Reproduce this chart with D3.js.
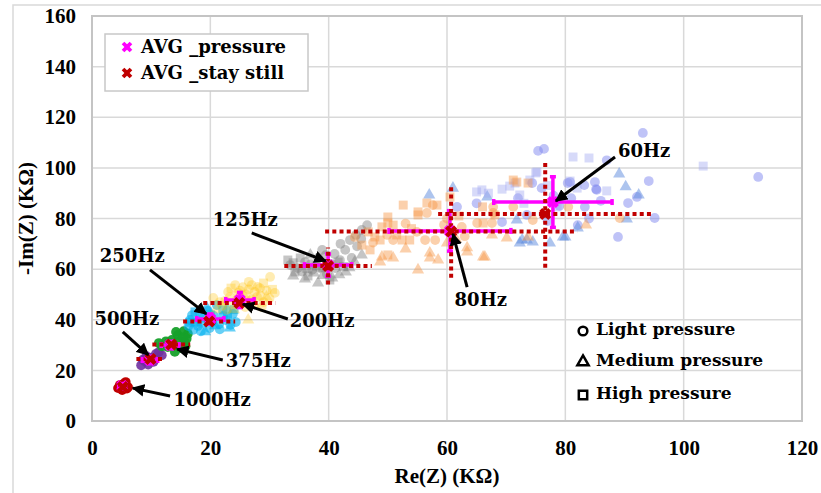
<!DOCTYPE html>
<html>
<head>
<meta charset="utf-8">
<script src="https://cdn.jsdelivr.net/npm/d3@7"></script>
<style>
  html, body { margin: 0; padding: 0; background: #fff; }
  svg { display: block; }
  .tick text, .ttl { font-family: "Liberation Serif", "Times New Roman", serif !important; font-weight: bold; }
  .ann, .leg { font-family: "DejaVu Serif", serif; font-weight: bold; }
</style>
</head>
<body>
<svg id="chart" width="821" height="493"></svg>
<script>
// ---------------- DATA ----------------
const xTicks = [0, 20, 40, 60, 80, 100, 120];
const yTicks = [0, 20, 40, 60, 80, 100, 120, 140, 160];
const xTitle = "Re(Z) (KΩ)";
const yTitle = "-Im(Z) (KΩ)";

// 60 Hz
const hz60Light = [[93.1,113.8],[112.6,96.4],[94.1,94.8],[85,94.4],[85.2,91.6],[83.2,93.2],[90.6,86.1],[92.1,88.5],[95.1,80.2],[88.9,72.7],[87,103],[80.8,94.4],[83.3,84.6],[82.1,77.4],[75.4,106.7],[76.4,107.5],[85.3,91.3],[80.4,94],[74.4,94],[61.7,84.6],[73.5,81.4],[69.3,78.6],[78,89],[81,88],[79,85],[76,92],[72,88],[65,86],[77,79],[84,80],[86,87]];
const hz60Medium = [[89.1,97.6],[90.2,92.5],[92.4,89.3],[90.4,79.8],[82.1,76.3],[80,72.7],[72.3,70.3],[73.5,71.5],[77.4,70.3],[79.6,72.7],[71.8,79.4],[72.7,71.5],[74.5,70.7],[61,92],[57,89.3],[66.8,88.5]];
const hz60High = [[81.3,104.3],[84,103.9],[103.3,100.7],[87,90.9],[80.8,94.8],[75.2,98.4],[69.3,91.6],[70.6,92.8],[72.3,89.3],[74,95.2],[78.6,84.6],[65.9,91.3],[65,90.5],[67,90],[71.5,94],[75,98],[82,92],[77,93],[73,86]];
// 80 Hz
const hz80Light = [[54.9,74.7],[56.3,71.5],[58,71.5],[56.6,82.2],[62.5,76.7],[65.1,78.2],[67.6,78.2],[50.9,71.5],[49.9,73.5],[57.6,85.3],[67.8,82.2],[44.4,72.7],[67.8,84.6],[71.2,84.6],[74.5,79.4],[80.5,84.6],[89.2,80.2],[60,80],[63,73],[53,78],[47.5,70.5],[59.5,77.5]];
const hz80Medium = [[55.1,59.7],[57.1,64.4],[58.5,63.6],[60,70.3],[63.4,66.8],[66.1,64.8],[70.1,72.3],[50.9,64.4],[49,64.8],[57.1,66.4],[63.4,68.4],[66.4,64.8],[83.5,77.4],[67.6,73.5],[73.7,72.7],[48.7,62.8],[53,68],[61.5,72]];
const hz80High = [[52.6,85.3],[55.1,81.4],[56.6,86.1],[58.3,85.3],[60.5,88.5],[50,78.2],[49,76.7],[46.7,74.7],[51.5,73.5],[53.7,71.5],[71.8,94.4],[68.1,81.4],[66.1,78.2],[50,80.6],[55.1,82.6],[52.4,71.5],[47.8,72.7],[71.2,95.2],[50.9,77.4],[48.7,71.5],[47,67.6],[45.6,69.5],[50,65.6],[73.7,94],[66,84.6],[62,81],[54,76]];
// 125 Hz
const hz125Light = [[33.5,61.6],[34.8,60.4],[36,62.8],[37.2,59.7],[38.2,64.4],[38.9,67.6],[39.7,58.1],[41.1,60.4],[41.9,63.6],[42.8,67.6],[43.6,71.5],[44.6,73.5],[45.6,75.5],[46.5,77.4],[43.9,64.4],[35.5,59],[40.5,62],[44.8,69],[37,62],[39.5,65.5],[42,70],[45.5,72],[38.5,60.5],[41,66]];
const hz125Medium = [[34,57.3],[36,56.1],[38.2,54.5],[40.6,56.5],[42.9,58.9],[44.4,62.8],[45.6,65.6],[36.9,65.6],[39,57.5],[41.8,57.8],[37.5,58.5],[43.5,60.5]];
const hz125High = [[34.3,58.9],[36.5,57.3],[37.9,61.2],[40.2,55.7],[41.6,62.8],[35.2,64.4],[33.1,63.6],[39,60.5],[42.5,61],[34,62.5],[36.3,60.3]];
// 200 Hz
const hz200Light = [[30.1,56.9],[30.9,50.6],[28.4,52.5],[27,53.7],[25.5,52.9],[24.2,53.7],[24.7,50.6],[27.9,49],[28.7,45],[23.3,49],[21.6,47],[20.5,48.6],[22.8,43.9],[25.9,45],[26,50],[23,51],[29,47],[25.5,49.5],[27.5,51],[22,45.5],[24,46],[28,53],[26.5,55],[29.5,51.5],[27,48],[24.5,48],[28.5,49.5],[26.5,52],[30,48.5],[22.5,47.5],[25,51.5]];
const hz200Medium = [[26.4,39.9],[29.5,49],[21,44],[27.5,46],[24,44]];
const hz200High = [[30.5,52],[27,47.5],[23.5,52.5],[29,54.5]];
// 250 Hz
const hz250Light = [[16.6,39.9],[17.9,37.5],[18.8,40.7],[19.9,36.7],[20.6,41.5],[21.5,38.3],[22.6,39.9],[23.8,42.3],[21.1,45.8],[17.1,36],[24.3,39.1],[16.3,37.5],[18.3,42.5],[20.3,39],[22.2,41.5],[19.6,43.5],[23.4,38],[21.6,36.2],[18.4,35.4],[16.9,41.8]];
const hz250Medium = [[19.4,44.6],[23.3,36.7],[19.1,35.3],[20.8,37.6],[17.6,38.8],[22.8,44.2]];
const hz250High = [[17.4,43.1],[22.1,43.9],[18.4,38.8],[22.9,41.2],[20,42],[24,44],[16.5,39]];
// 375 Hz
const hz375Light = [[13.5,32],[14.5,34],[15.7,31.2],[14.9,28.8],[12.8,29.2],[14,27.3],[16.2,34.5],[15.5,35.5],[13,31],[11.8,29.5],[14.6,31.3],[15.3,33],[13.8,29.8],[12.5,31.5],[16,32.5],[14.2,35.2],[15.8,29.5],[11.3,30.8]];
// 500 Hz
const hz500Light = [[8.3,22],[9,23.5],[10,25],[10.8,26.5],[11.3,27.3],[9.5,22.3],[8.6,24.2],[10.4,23.4],[9.2,25.6],[11.8,26]];
// 1000 Hz
const hz1000Light = [[4.7,14.2],[5.7,15.4],[5.1,12.2],[6.1,13.4],[4.4,13],[5.4,14.8],[5.9,12.8]];

// averages with error half-widths [x, y, errX, errY]
const avgPressure = [[77.9,86.5,10,10],[60.5,75.1,10.3,8],[39.9,61.6,4,4.4],[25,47.8,2.4,3],[20,40.3,2.3,2],[13.2,30,1.5,1.5],[9.8,24.1,1.3,1.5],[5.1,13.8,0.6,1]];
const avgStill = [[76.6,81.8,18.1,21.3],[60.7,74.9,21.3,18.3],[39.9,61.2,7.4,7.3],[24.9,46.6,6.1,1.2],[19.8,39.3,4.4,1.2],[13.4,30.2,3.2,1.2],[9.9,24.5,2.4,1.2],[5.2,13.4,0.8,0.8]];

const seriesNames = ["AVG _pressure", "AVG _stay still"];
const shapeNames = ["Light pressure", "Medium pressure", "High pressure"];

// annotation: label, text position, arrow tail, arrow head (data units)
const annotations = [
  ["60Hz",   93.3,106.7, 88.4,104.3, 78.4,86.9],
  ["80Hz",   65.7,47.8,  63.4,52.9,  61.0,73.9],
  ["125Hz",  25.9,79.4,  27.0,74.3,  39.5,63.2],
  ["250Hz",   6.8,65.2,   9.8,59.7,  19.3,42.3],
  ["200Hz",  38.9,39.5,  33.1,40.3,  25.5,46.2],
  ["500Hz",   5.9,40.3,   5.2,35.2,   9.5,26.1],
  ["375Hz",  28.1,23.7,  22.1,24.1,  14.4,28.4],
  ["1000Hz", 20.3,8.3,   13.2,9.9,    6.9,13.0]
];

// ---------------- DRAWING ----------------
const svg = d3.select("#chart");
const x = d3.scaleLinear().domain([0,120]).range([92,802]);
const y = d3.scaleLinear().domain([0,160]).range([421,16]);

svg.append("rect").attr("x",13).attr("y",5).attr("width",830).attr("height",500)
  .attr("fill","none").attr("stroke","#d9d9d9").attr("stroke-width",1.5);

const grid = svg.append("g");
grid.selectAll(".gx").data(xTicks).join("line")
  .attr("x1",d=>x(d)).attr("x2",d=>x(d)).attr("y1",y(0)).attr("y2",y(160))
  .attr("stroke","#d9d9d9").attr("stroke-width",1.5);
grid.selectAll(".gy").data(yTicks).join("line")
  .attr("y1",d=>y(d)).attr("y2",d=>y(d)).attr("x1",x(0)).attr("x2",x(120))
  .attr("stroke","#d9d9d9").attr("stroke-width",1.5);
svg.append("rect").attr("x",x(0)).attr("y",y(160)).attr("width",x(120)-x(0)).attr("height",y(0)-y(160))
  .attr("fill","none").attr("stroke","#c4c4c4").attr("stroke-width",2);

const xAxis = d3.axisBottom(x).tickValues(xTicks).tickSize(0).tickPadding(19);
const yAxis = d3.axisLeft(y).tickValues(yTicks).tickSize(0).tickPadding(16);
const gx = svg.append("g").attr("transform",`translate(0,${y(0)})`).call(xAxis);
const gy = svg.append("g").attr("transform",`translate(${x(0)},0)`).call(yAxis);
[gx,gy].forEach(g=>{
  g.attr("font-family",null).attr("font-size",null);
  g.select(".domain").remove();
  g.selectAll("text").style("font-size","21px").attr("fill","#000");
});

svg.append("text").attr("class","ttl").attr("x",(x(0)+x(120))/2).attr("y",483).attr("text-anchor","middle")
  .style("font-size","21px").text(xTitle);
svg.append("text").attr("class","ttl").attr("transform",`translate(33,${(y(0)+y(160))/2}) rotate(-90)`).attr("text-anchor","middle")
  .style("font-size","21px").text(yTitle);

// scatter points
const plot = svg.append("g");
const symT = [d3.symbolCircle, d3.symbolTriangle, d3.symbolSquare];
const symS = [75, 64, 80];
function drawPts(data, shape, color, op){
  plot.append("g").selectAll("path").data(data).join("path")
    .attr("d", d3.symbol().type(symT[shape]).size(symS[shape]))
    .attr("transform", d=>`translate(${x(d[0])},${y(d[1])})`)
    .attr("fill", color).attr("fill-opacity", op);
}
drawPts(hz1000Light,0,"#c00000",1);
drawPts(hz500Light,0,"#7030a0",0.9);
drawPts(hz375Light,0,"#16a02a",0.95);
drawPts(hz250Light,0,"#00b0f0",0.6);
drawPts(hz250Medium,1,"#00b0f0",0.6);
drawPts(hz250High,2,"#00b0f0",0.6);
drawPts(hz200Light,0,"#ffc000",0.3);
drawPts(hz200Medium,1,"#ffc000",0.3);
drawPts(hz200High,2,"#ffc000",0.3);
drawPts(hz125Light,0,"#7f7f7f",0.45);
drawPts(hz125Medium,1,"#7f7f7f",0.45);
drawPts(hz125High,2,"#7f7f7f",0.45);
drawPts(hz60Light,0,"#7f88f0",0.5);
drawPts(hz60Medium,1,"#5b8ade",0.5);
drawPts(hz60High,2,"#a0a8f0",0.42);
drawPts(hz80High,2,"#f79646",0.45);
drawPts(hz80Light,0,"#f79646",0.45);
drawPts(hz80Medium,1,"#f79646",0.45);

function drawBars(data, color, width, dash, cap){
  const g = svg.append("g").attr("stroke",color).attr("stroke-width",width).attr("fill","none");
  data.forEach(d=>{
    const h = g.append("line").attr("x1",x(d[0]-d[2])).attr("x2",x(d[0]+d[2])).attr("y1",y(d[1])).attr("y2",y(d[1]));
    const v = g.append("line").attr("x1",x(d[0])).attr("x2",x(d[0])).attr("y1",y(d[1]-d[3])).attr("y2",y(d[1]+d[3]));
    if(dash){ h.attr("stroke-dasharray",dash); v.attr("stroke-dasharray",dash); }
    if(cap){
      [[x(d[0]-d[2]),y(d[1])],[x(d[0]+d[2]),y(d[1])]].forEach(p=>
        g.append("line").attr("x1",p[0]).attr("x2",p[0]).attr("y1",p[1]-cap).attr("y2",p[1]+cap));
      [[x(d[0]),y(d[1]-d[3])],[x(d[0]),y(d[1]+d[3])]].forEach(p=>
        g.append("line").attr("y1",p[1]).attr("y2",p[1]).attr("x1",p[0]-cap).attr("x2",p[0]+cap));
    }
  });
}
drawBars(avgPressure,"#ff00ff",3.5,null,3);
drawBars(avgStill,"#c00000",4,"4,3.2",0);

const xSym = d3.symbol().type(d3.symbolCross).size(90);
function drawAvg(data, color){
  svg.append("g").selectAll("path").data(data).join("path")
    .attr("d", xSym).attr("fill", color)
    .attr("transform", d=>`translate(${x(d[0])},${y(d[1])}) rotate(45)`);
}
drawAvg(avgPressure,"#ff00ff");
drawAvg(avgStill,"#c00000");

const defs = svg.append("defs");
defs.append("marker").attr("id","ah").attr("viewBox","0 0 10 10").attr("refX",9).attr("refY",5)
  .attr("markerWidth",4.2).attr("markerHeight",4.2).attr("orient","auto")
  .append("path").attr("d","M0,0 L10,5 L0,10 z").attr("fill","#000");
const ann = svg.append("g");
annotations.forEach(a=>{
  ann.append("line").attr("x1",x(a[3])).attr("y1",y(a[4])).attr("x2",x(a[5])).attr("y2",y(a[6]))
    .attr("stroke","#000").attr("stroke-width",3).attr("marker-end","url(#ah)");
  ann.append("text").attr("class","ann").attr("x",x(a[1])).attr("y",y(a[2])).attr("dy","0.36em").attr("text-anchor","middle")
    .style("font-size","18px").text(a[0]);
});

const lg = svg.append("g");
lg.append("rect").attr("x",105).attr("y",34).attr("width",203).attr("height",57)
  .attr("fill","#fff").attr("stroke","#c8c8c8").attr("stroke-width",1.5);
[["#ff00ff",47],["#c00000",73]].forEach((c,i)=>{
  lg.append("path").attr("d",d3.symbol().type(d3.symbolCross).size(70))
    .attr("transform",`translate(127,${c[1]}) rotate(45)`).attr("fill",c[0]);
  lg.append("text").attr("class","leg").attr("x",141).attr("y",c[1]+6)
    .style("font-size","18px").text(seriesNames[i]);
});

const ls = svg.append("g");
[331,362,395].forEach((yy,i)=>{
  ls.append("path").attr("d",d3.symbol().type(symT[i]).size([60,55,70][i]))
    .attr("transform",`translate(583,${yy})`).attr("fill","none").attr("stroke","#000").attr("stroke-width",2.5);
  ls.append("text").attr("class","leg").attr("x",596).attr("y",yy+4)
    .style("font-size","17px").text(shapeNames[i]);
});
</script>
</body>
</html>
